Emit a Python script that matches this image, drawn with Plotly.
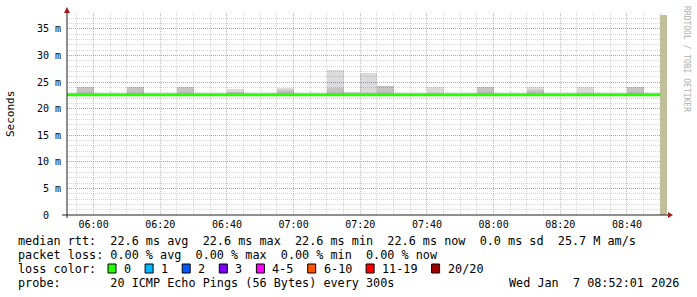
import plotly.graph_objects as go

# ---------------- data ----------------
DAY = "2026-01-07 "
x_start = DAY + "05:52:01"
x_end = DAY + "08:52:01"

# 5-minute interval start times and median rtt (ms)
interval_start = ["05:50", "05:55", "06:00", "06:05", "06:10", "06:15", "06:20", "06:25", "06:30",
                  "06:35", "06:40", "06:45", "06:50", "06:55", "07:00", "07:05", "07:10", "07:15",
                  "07:20", "07:25", "07:30", "07:35", "07:40", "07:45", "07:50", "07:55", "08:00",
                  "08:05", "08:10", "08:15", "08:20", "08:25", "08:30", "08:35", "08:40", "08:45",
                  "08:50"]
median_ms = [22.6, 22.6, 22.6, 22.6, 22.6, 22.6, 22.6, 22.6, 22.6,
             22.6, 22.6, 22.6, 22.6, 22.6, 22.6, 22.6, 22.6, 22.6,
             22.6, 22.6, 22.6, 22.6, 22.6, 22.6, 22.6, 22.6, 22.6,
             22.6, 22.6, 22.6, 22.6, 22.6, 22.6, 22.6, 22.6, 22.6,
             22.6]

# smoke (intervals with visible spread): interval centre, max ping, inner band top (ms)
smoke_time = ["05:57:30", "06:12:30", "06:27:30", "06:42:30", "06:57:30", "07:12:30", "07:17:30",
              "07:22:30", "07:27:30", "07:42:30", "07:57:30", "08:12:30", "08:27:30", "08:42:30"]
smoke_median = [22.6, 22.6, 22.6, 22.6, 22.6, 22.6, 22.6, 22.6, 22.6, 22.6, 22.6, 22.6, 22.6, 22.6]
smoke_max = [24.0, 24.0, 24.0, 23.7, 23.9, 27.3, 23.1, 26.8, 24.25, 24.0, 24.0, 24.0, 24.0, 24.0]
smoke_inner = [24.0, 24.0, 24.0, 23.2, 23.5, 23.9, 22.6, 22.6, 24.25, 22.6, 24.0, 23.5, 22.6, 24.0]

# last (incomplete) interval marker
now_time = ["08:51:00"]
now_value_ms = [37.6]

y_tick_ms = [0, 5, 10, 15, 20, 25, 30, 35]
y_tick_text = ["0\u00a0\u00a0", "5 m", "10 m", "15 m", "20 m", "25 m", "30 m", "35 m"]

legend_rows = [
    "median rtt:  22.6 ms avg  22.6 ms max  22.6 ms min  22.6 ms now  0.0 ms sd  25.7 M am/s",
    "packet loss: 0.00 % avg  0.00 % max  0.00 % min  0.00 % now",
    "loss color:",
    "probe:       20 ICMP Echo Pings (56 Bytes) every 300s",
]
loss_labels = ["0", "1", "2", "3", "4-5", "6-10", "11-19", "20/20"]
loss_colors = ["#26ff00", "#00b8ff", "#0059ff", "#7e00ff", "#ff00ff", "#ff5500", "#ff0000", "#a10000"]
date_text = "Wed Jan  7 08:52:01 2026"

# ---------------- layout helpers ----------------
W, H = 697, 297
L, R, T, B = 67, 30, 13, 82
PW, PH = W - L - R, H - T - B
MONO = "DejaVu Sans Mono"


def px(x):
    return (x - L) / PW


def py(y):
    return (T + PH - y) / PH


def nb(s):
    return s.replace(" ", "\u00a0")


fig = go.Figure()

s = [v / 1000 for v in smoke_median]
fig.add_trace(go.Bar(
    x=[DAY + t for t in smoke_time], y=[(m - b) / 1000 for m, b in zip(smoke_max, smoke_median)],
    base=s, width=300000, marker=dict(color="rgba(0,0,0,0.14)", line_width=0), hoverinfo="skip"))
fig.add_trace(go.Bar(
    x=[DAY + t for t in smoke_time], y=[(m - b) / 1000 for m, b in zip(smoke_inner, smoke_median)],
    base=s, width=300000, marker=dict(color="rgba(0,0,0,0.10)", line_width=0), hoverinfo="skip"))
fig.add_trace(go.Bar(
    x=[DAY + t for t in now_time], y=[v / 1000 for v in now_value_ms], base=0, width=120000,
    marker=dict(color="#bfbf9a", line_width=0), hoverinfo="skip"))
fig.add_trace(go.Scatter(
    x=[DAY + t for t in interval_start], y=[v / 1000 for v in median_ms], mode="lines",
    line=dict(color="#26ff00", width=3, shape="hv"), hoverinfo="skip"))

grid_minor = "rgba(143,143,143,0.35)"
grid_major = "rgba(222,48,48,0.40)"
DASH = "1px,1px"

fig.update_layout(
    width=W, height=H, margin=dict(l=L, r=R, t=T, b=B),
    paper_bgcolor="white", plot_bgcolor="white",
    showlegend=False, barmode="overlay", bargap=0,
    font=dict(family=MONO, size=10, color="black"),
    xaxis=dict(
        type="date", range=[x_start, x_end],
        tickmode="linear", tick0=DAY + "06:00", dtick=1200000, tickformat="%H:%M",
        showgrid=True, gridcolor=grid_major, griddash=DASH, gridwidth=1,
        minor=dict(tickmode="linear", tick0=DAY + "06:00", dtick=300000, showgrid=True,
                   gridcolor=grid_minor, griddash=DASH, gridwidth=1),
        showline=False, zeroline=False, ticks="", ticklabelstandoff=2,
        tickfont=dict(family=MONO, size=10, color="black"), fixedrange=True,
    ),
    yaxis=dict(
        range=[0, 0.038], tickmode="array", tickvals=[v / 1000 for v in y_tick_ms], ticktext=y_tick_text,
        showgrid=True, gridcolor=grid_major, griddash=DASH, gridwidth=1,
        minor=dict(tickmode="linear", tick0=0, dtick=0.001, showgrid=True,
                   gridcolor=grid_minor, griddash=DASH, gridwidth=1),
        showline=False, zeroline=False, ticks="", ticklabelstandoff=5,
        tickfont=dict(family=MONO, size=10, color="black"), fixedrange=True,
    ),
)

shapes = []
axis_col = "#202020"
arrow_col = "#a01c1c"
# axes
shapes.append(dict(type="line", xref="paper", yref="paper", x0=px(62), x1=px(668), y0=py(215), y1=py(215),
                   line=dict(color=axis_col, width=1)))
shapes.append(dict(type="line", xref="paper", yref="paper", x0=px(67), x1=px(67), y0=py(218), y1=py(12),
                   line=dict(color=axis_col, width=1)))
# arrows
shapes.append(dict(type="path", xref="paper", yref="paper",
                   path=f"M {px(668)} {py(212)} L {px(673)} {py(215)} L {px(668)} {py(218)} Z",
                   fillcolor=arrow_col, line=dict(color=arrow_col, width=0)))
shapes.append(dict(type="path", xref="paper", yref="paper",
                   path=f"M {px(64)} {py(13)} L {px(67)} {py(7)} L {px(70)} {py(13)} Z",
                   fillcolor=arrow_col, line=dict(color=arrow_col, width=0)))

annotations = []
row_y = [241, 254.5, 268.5, 283]
for text, y in zip(legend_rows, row_y):
    annotations.append(dict(text=nb(text), x=px(16), y=py(y), xref="paper", yref="paper",
                            xanchor="left", yanchor="middle", showarrow=False,
                            font=dict(family=MONO, size=11.8, color="black")))
annotations.append(dict(text=nb(date_text), x=px(681), y=py(283), xref="paper", yref="paper",
                        xanchor="right", yanchor="middle", showarrow=False,
                        font=dict(family=MONO, size=11.8, color="black")))

cw = 7.1
bx = 108
for lab, col in zip(loss_labels, loss_colors):
    shapes.append(dict(type="rect", xref="paper", yref="paper", x0=px(bx), x1=px(bx + 8),
                       y0=py(273), y1=py(264), fillcolor=col, line=dict(color="black", width=1)))
    lx = bx + 14
    annotations.append(dict(text=lab, x=px(lx), y=py(268.5), xref="paper", yref="paper",
                            xanchor="left", yanchor="middle", showarrow=False,
                            font=dict(family=MONO, size=11.8, color="black")))
    bx = lx + len(lab) * cw + 16

# axis title and watermark
annotations.append(dict(text="Seconds", x=px(10), y=py(114), xref="paper", yref="paper",
                        xanchor="center", yanchor="middle", showarrow=False, textangle=-90,
                        font=dict(family=MONO, size=11, color="black")))
annotations.append(dict(text="RRDTOOL / TOBI OETIKER", x=px(686), y=py(59), xref="paper", yref="paper",
                        xanchor="center", yanchor="middle", showarrow=False, textangle=90,
                        font=dict(family=MONO, size=8, color="#b0b0b0")))

fig.update_layout(shapes=shapes, annotations=annotations)
fig.write_html("out.html")
